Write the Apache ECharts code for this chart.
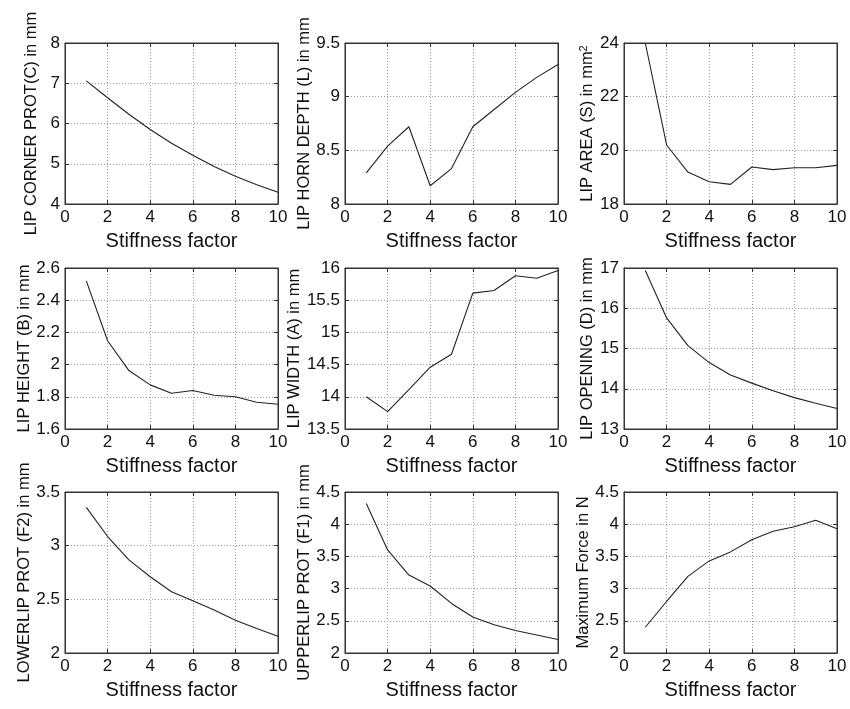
<!DOCTYPE html>
<html>
<head>
<meta charset="utf-8">
<script src="https://cdn.jsdelivr.net/npm/echarts@6/dist/echarts.min.js"></script>
<style>
html,body{margin:0;padding:0;background:#fff;}
#chart{width:850px;height:709px;}
</style>
</head>
<body>
<div id="chart"></div>
<script>
// ---- data ----
var stiffness = [1, 2, 3, 4, 5, 6, 7, 8, 9, 10];
var xTicks = [0, 2, 4, 6, 8, 10];

var lipCornerProt = [7.06, 6.64, 6.23, 5.85, 5.51, 5.21, 4.93, 4.69, 4.48, 4.29];
var lipHornDepth  = [8.29, 8.54, 8.72, 8.17, 8.33, 8.72, 8.88, 9.04, 9.18, 9.30];
var lipArea       = [24.0, 20.2, 19.19, 18.83, 18.73, 19.38, 19.28, 19.35, 19.35, 19.44];
var lipHeight     = [2.52, 2.148, 1.963, 1.874, 1.822, 1.839, 1.81, 1.80, 1.766, 1.754];
var lipWidth      = [14.0, 13.77, 14.11, 14.46, 14.66, 15.61, 15.65, 15.88, 15.84, 15.96];
var lipOpening    = [16.94, 15.76, 15.07, 14.65, 14.34, 14.14, 13.95, 13.78, 13.64, 13.51];
var lowerlipProt  = [3.357, 3.085, 2.867, 2.71, 2.57, 2.486, 2.40, 2.306, 2.228, 2.156];
var upperlipProt  = [4.32, 3.60, 3.21, 3.04, 2.77, 2.56, 2.44, 2.35, 2.28, 2.21];
var maxForce      = [2.40, 2.80, 3.19, 3.43, 3.57, 3.76, 3.89, 3.96, 4.06, 3.93];

var xName = 'Stiffness factor';
var panels = [
  {name: 'LIP CORNER PROT(C) in mm', data: lipCornerProt, min: 4, max: 8, step: 1},
  {name: 'LIP HORN DEPTH (L) in mm', data: lipHornDepth, min: 8, max: 9.5, step: 0.5},
  {name: 'LIP AREA (S) in mm{sup|2}', data: lipArea, min: 18, max: 24, step: 2},
  {name: 'LIP HEIGHT (B) in mm', data: lipHeight, min: 1.6, max: 2.6, step: 0.2},
  {name: 'LIP WIDTH (A) in mm', data: lipWidth, min: 13.5, max: 16, step: 0.5},
  {name: 'LIP OPENING (D) in mm', data: lipOpening, min: 13, max: 17, step: 1},
  {name: 'LOWERLIP PROT (F2) in mm', data: lowerlipProt, min: 2, max: 3.5, step: 0.5},
  {name: 'UPPERLIP PROT (F1) in mm', data: upperlipProt, min: 2, max: 4.5, step: 0.5},
  {name: 'Maximum Force in N', data: maxForce, min: 2, max: 4.5, step: 0.5}
];

// ---- layout ----
var lefts = [65, 345, 624];
var tops = [43, 268, 492];
var W = 213, H = 161;
var FONT = 'Liberation Sans, Arial, Helvetica, sans-serif';
var frame = '#333';
var gridLine = {show: true, lineStyle: {color: '#999', type: [1, 2], width: 1}};

var grids = [], xAxes = [], yAxes = [], series = [];
panels.forEach(function (p, i) {
  var col = i % 3, row = Math.floor(i / 3);
  grids.push({left: lefts[col], top: tops[row], width: W, height: H,
    show: true, borderColor: frame, borderWidth: 1, backgroundColor: '#fff'});
  var xmin = xTicks[0], xmax = xTicks[xTicks.length - 1];
  xAxes.push({
    type: 'value', gridIndex: i, position: 'bottom', min: xmin, max: xmax, interval: 2,
    name: xName, nameLocation: 'middle', nameGap: 27,
    nameTextStyle: {fontFamily: FONT, fontSize: 20, color: '#111'},
    axisLine: {show: true, onZero: false, lineStyle: {color: frame, width: 1}},
    axisTick: {show: true, inside: true, length: 4, lineStyle: {color: frame}},
    axisLabel: {fontFamily: FONT, fontSize: 17, color: '#111', margin: 5},
    splitLine: gridLine
  });
  xAxes.push({
    type: 'value', gridIndex: i, position: 'top', min: xmin, max: xmax, interval: 2,
    axisLine: {show: true, onZero: false, lineStyle: {color: frame, width: 1}},
    axisTick: {show: true, inside: true, length: 4, lineStyle: {color: frame}},
    axisLabel: {show: false}, splitLine: {show: false}
  });
  yAxes.push({
    type: 'value', gridIndex: i, position: 'left', min: p.min, max: p.max, interval: p.step,
    name: p.name, nameLocation: 'middle', nameGap: 25,
    nameTextStyle: {fontFamily: FONT, fontSize: 16.5, color: '#111',
      rich: {sup: {fontFamily: FONT, fontSize: 11, color: '#111', verticalAlign: 'top', padding: [0, 0, 8, 0]}}},
    axisLine: {show: true, onZero: false, lineStyle: {color: frame, width: 1}},
    axisTick: {show: true, inside: true, length: 4, lineStyle: {color: frame}},
    axisLabel: {fontFamily: FONT, fontSize: 17, color: '#111', margin: 5,
      formatter: function (v) { return String(Math.round(v * 100) / 100); }},
    splitLine: gridLine
  });
  yAxes.push({
    type: 'value', gridIndex: i, position: 'right', min: p.min, max: p.max, interval: p.step,
    axisLine: {show: true, onZero: false, lineStyle: {color: frame, width: 1}},
    axisTick: {show: true, inside: true, length: 4, lineStyle: {color: frame}},
    axisLabel: {show: false}, splitLine: {show: false}
  });
  series.push({
    type: 'line', xAxisIndex: 2 * i, yAxisIndex: 2 * i,
    data: stiffness.map(function (x, k) { return [x, p.data[k]]; }),
    showSymbol: false, symbol: 'none', clip: true,
    lineStyle: {color: '#222', width: 1.1}, silent: true, animation: false
  });
});

var chart = echarts.init(document.getElementById('chart'), null, {renderer: 'canvas'});
chart.setOption({
  backgroundColor: '#fff',
  animation: false,
  grid: grids, xAxis: xAxes, yAxis: yAxes, series: series
});
</script>
</body>
</html>
